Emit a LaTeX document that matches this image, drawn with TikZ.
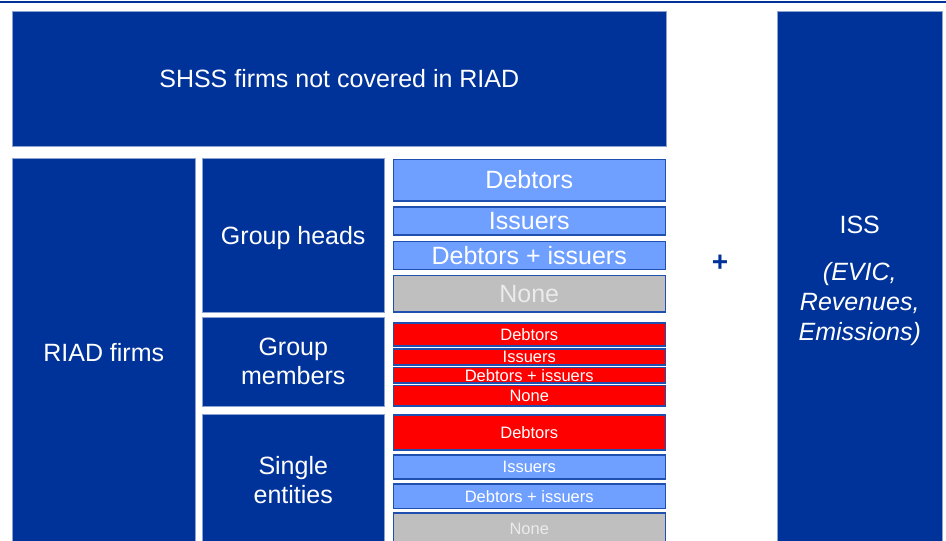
\documentclass[tikz,border=0pt]{standalone}
\usepackage{fontspec}
\setmainfont{Liberation Sans}
\definecolor{ecbblue}{HTML}{003399}
\definecolor{lightblue}{HTML}{6FA0FF}
\definecolor{boxedge}{HTML}{1F4FAF}
\definecolor{nonegrey}{HTML}{BFBFBF}
\definecolor{nonetext}{HTML}{EBEBEB}

\begin{document}
\begin{tikzpicture}[x=1pt,y=-1pt,
  bigbox/.style={fill=ecbblue,draw=ecbblue!45!white,line width=0.5pt,text=white,
    inner sep=0pt,anchor=north west,align=center,text depth=0pt,font=\fontsize{25}{29}\selectfont},
  subbox/.style={draw=boxedge,line width=1.5pt,text=white,inner sep=0pt,
    anchor=north west,minimum width=272pt}]
\useasboundingbox (0,0) rectangle (946,541);
\draw[ecbblue,line width=2pt] (0,1.5) -- (946,1.5);
% left block
\node[bigbox,minimum width=654pt,minimum height=135pt] (shss) at (12,11) {SHSS firms not covered in RIAD};
\node[bigbox,minimum width=183pt,minimum height=388pt] (riad) at (12,158) {RIAD firms};
\node[bigbox,minimum width=182pt,minimum height=154pt] (heads) at (202,158) {Group heads};
\node[bigbox,minimum width=182pt,minimum height=88.4pt] (members) at (202,317.3) {Group\\members};
\node[bigbox,minimum width=182pt,minimum height=131.7pt] (single) at (202,414.3) {Single\\entities};
% sub boxes
\foreach \nm/\y/\h/\col/\fs/\txt in {
  hdeb/158.5/41.5/lightblue/25/Debtors,
  hiss/206/28/lightblue/25/Issuers,
  hboth/240.7/28/lightblue/25/Debtors + issuers,
  mdeb/322.3/22.7/red/16.5/Debtors,
  miss/348.3/15.7/red/16.5/Issuers,
  mboth/366.7/15.3/red/16.5/Debtors + issuers,
  mnone/384.7/20.3/red/16.5/None,
  sdeb/414.3/35/red/16.5/Debtors,
  siss/454/24.3/lightblue/16.5/Issuers,
  sboth/483.3/24.4/lightblue/16.5/Debtors + issuers}{
  \node[subbox,fill=\col,minimum height=\h pt,font=\fontsize{\fs}{\fs}\selectfont] (\nm) at (392.5,\y) {\txt};
}
\node[subbox,fill=nonegrey,text=nonetext,minimum height=36.6pt,font=\fontsize{25}{25}\selectfont] (hnone) at (392.5,274.7) {None};
\node[subbox,fill=nonegrey,text=nonetext,minimum height=32pt,font=\fontsize{16.5}{16.5}\selectfont] (snone) at (392.5,512.3) {None};
% right block
\node[text=ecbblue,font=\fontsize{28}{28}\selectfont\bfseries] (plus) at (720,263) {+};
\node[bigbox,minimum width=165pt,minimum height=535pt,font=\fontsize{25}{30}\selectfont] (iss) at (777,11)
  {ISS\\[17pt]\textit{(EVIC,}\\\textit{Revenues,}\\\textit{Emissions)}};
\end{tikzpicture}
\end{document}
